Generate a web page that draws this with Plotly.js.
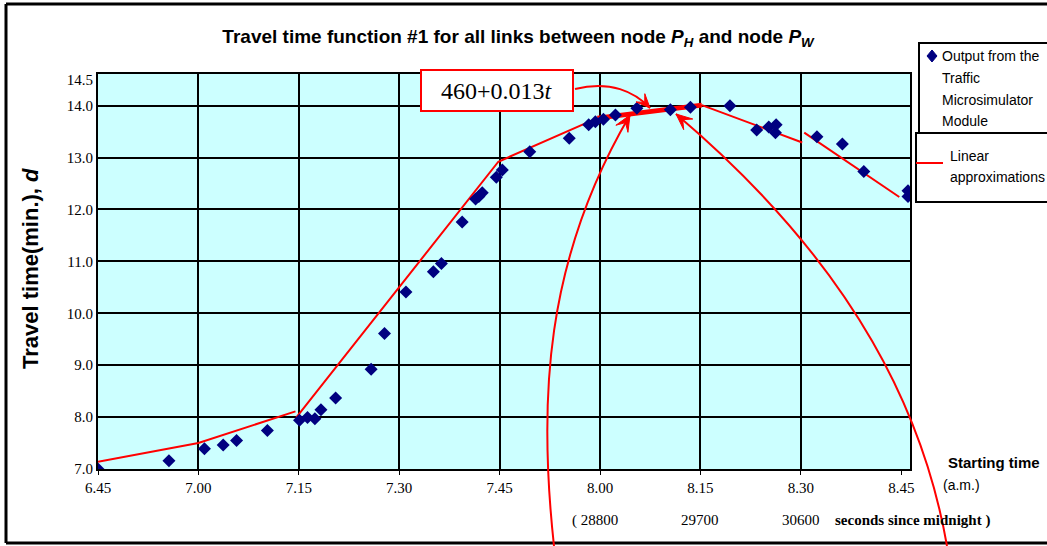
<!DOCTYPE html>
<html>
<head>
<meta charset="utf-8">
<script src="https://cdn.plot.ly/plotly-3.0.1.min.js"></script>
<style>html,body{margin:0;padding:0;background:#fff;}#chart{width:1047px;height:546px;}</style>
</head>
<body>
<div id="chart"></div>
<script>
// ---- data (x = minutes after 6:45 a.m., y = travel time in minutes) ----
const simTime = [0, 10.6, 15.9, 18.7, 20.7, 25.3, 30.1, 31.3, 32.4, 33.3, 35.5, 40.8, 42.8,
  46.0, 50.1, 51.3, 54.4, 56.4, 56.9, 57.4, 59.5, 60.4, 64.5, 70.4, 73.3, 74.3, 75.5, 77.3,
  80.5, 85.5, 88.5, 94.4, 98.4, 100.2, 101.3, 101.2, 107.4, 111.2, 114.4, 121.0, 121.0];
const simTravel = [7.00, 7.16, 7.39, 7.46, 7.55, 7.74, 7.94, 7.99, 7.97, 8.14, 8.37, 8.92, 9.61,
  10.41, 10.80, 10.96, 11.76, 12.20, 12.25, 12.32, 12.62, 12.76, 13.11, 13.37, 13.63, 13.69, 13.74, 13.82,
  13.95, 13.92, 13.97, 14.00, 13.53, 13.59, 13.63, 13.48, 13.40, 13.26, 12.73, 12.36, 12.25];

// linear approximations (null = break between pieces)
const approxTime   = [0, 15, 29.5, null, 29.6, 59.8, 74.6, null, 90.2, 105.2, null, 105.5, 119.7];
const approxTravel = [7.14, 7.50, 8.11, null, 7.99, 12.92, 13.76, null, 14.01, 13.29, null, 13.48, 12.24];
// highlighted piece 460 + 0.013 t
const highlightTime   = [74.6, 90.2];
const highlightTravel = [13.76, 14.01];

const xTickVals = [0, 15, 30, 45, 60, 75, 90, 105, 120];
const xTickText = ['6.45', '7.00', '7.15', '7.30', '7.45', '8.00', '8.15', '8.30', '8.45'];
const xGridVals = [15, 30, 45, 60, 75, 90, 105];
const yTickVals = [7, 8, 9, 10, 11, 12, 13, 14, 14.5];
const yTickText = ['7.0', '8.0', '9.0', '10.0', '11.0', '12.0', '13.0', '14.0', '14.5'];
const yGridVals = [7, 8, 9, 10, 11, 12, 13, 14];
const secondsTime = [75, 90, 105];
const secondsText = ['( 28800', '29700', '30600'];

// ---- layout helpers (pixel -> paper) ----
const PL = 98, PR = 910, PT = 74, PB = 469;
function P(x, y) { return ((x - PL) / (PR - PL)).toFixed(5) + ',' + ((PB - y) / (PB - PT)).toFixed(5); }
function px(x) { return (x - PL) / (PR - PL); }
function py(y) { return (PB - y) / (PB - PT); }
const RED = '#FF0000';
const SERIF = 'Liberation Serif, Times New Roman, serif';
const SANS = 'Liberation Sans, Arial, sans-serif';

function curve(p0, p1, p2, p3) {
  return 'M' + P(p0[0], p0[1]) + ' C' + P(p1[0], p1[1]) + ' ' + P(p2[0], p2[1]) + ' ' + P(p3[0], p3[1]);
}
function head(tip, from, L, W) {
  const dx = tip[0] - from[0], dy = tip[1] - from[1];
  const n = Math.hypot(dx, dy), ux = dx / n, uy = dy / n, nx = -uy, ny = ux;
  const a = [tip[0] - L * ux + W * nx, tip[1] - L * uy + W * ny];
  const b = [tip[0] - 0.55 * L * ux, tip[1] - 0.55 * L * uy];
  const c = [tip[0] - L * ux - W * nx, tip[1] - L * uy - W * ny];
  return 'M' + P(tip[0], tip[1]) + ' L' + P(a[0], a[1]) + ' L' + P(b[0], b[1]) + ' L' + P(c[0], c[1]) + ' Z';
}

const c1 = [[575, 89], [610, 80], [635, 92], [650, 108]];
const c2 = [[554, 546], [538, 400], [545, 260], [630, 115]];
const c3 = [[947, 546], [925, 420], [860, 270], [676, 114]];

const shapes = [
  // outer frame
  {type: 'line', xref: 'paper', yref: 'paper', x0: px(6), x1: px(6), y0: py(4), y1: py(543), line: {color: '#000', width: 3}},
  {type: 'line', xref: 'paper', yref: 'paper', x0: px(6), x1: px(1050), y0: py(4), y1: py(4), line: {color: '#000', width: 3}},
  {type: 'line', xref: 'paper', yref: 'paper', x0: px(6), x1: px(1050), y0: py(543), y1: py(543), line: {color: '#000', width: 3}},
  // curved pointers
  {type: 'path', xref: 'paper', yref: 'paper', layer: 'above', path: curve(...c1), line: {color: RED, width: 2}},
  {type: 'path', xref: 'paper', yref: 'paper', layer: 'above', path: curve(...c2), line: {color: RED, width: 2}},
  {type: 'path', xref: 'paper', yref: 'paper', layer: 'above', path: curve(...c3), line: {color: RED, width: 2}},
  {type: 'path', xref: 'paper', yref: 'paper', layer: 'above', path: head(c1[3], c1[2], 14, 6), fillcolor: RED, line: {color: RED, width: 1}},
  {type: 'path', xref: 'paper', yref: 'paper', layer: 'above', path: head(c2[3], c2[2], 16, 7), fillcolor: RED, line: {color: RED, width: 1}},
  {type: 'path', xref: 'paper', yref: 'paper', layer: 'above', path: head(c3[3], c3[2], 16, 7), fillcolor: RED, line: {color: RED, width: 1}},
  // formula box
  {type: 'rect', xref: 'paper', yref: 'paper', layer: 'above', x0: px(421), x1: px(573), y0: py(70), y1: py(111), fillcolor: '#fff', line: {color: RED, width: 2}},
  // legend boxes
  {type: 'rect', xref: 'paper', yref: 'paper', x0: px(919), x1: px(1052), y0: py(43), y1: py(133), fillcolor: '#fff', line: {color: '#000', width: 2}},
  {type: 'rect', xref: 'paper', yref: 'paper', x0: px(916), x1: px(1052), y0: py(133), y1: py(202), fillcolor: '#fff', line: {color: '#000', width: 2}},
  {type: 'path', xref: 'paper', yref: 'paper', path: 'M' + P(932, 50) + ' L' + P(937, 56) + ' L' + P(932, 62) + ' L' + P(927, 56) + ' Z', fillcolor: '#000080', line: {color: '#000080', width: 1}},
  {type: 'line', xref: 'paper', yref: 'paper', x0: px(916), x1: px(943), y0: py(163), y1: py(163), line: {color: RED, width: 2}}
];

const annotations = [
  {xref: 'paper', yref: 'paper', x: px(497), y: py(91), text: '460+0.013<i>t</i>', showarrow: false, font: {family: SERIF, size: 24, color: '#000'}, xanchor: 'center', yanchor: 'middle'},
  {xref: 'paper', yref: 'paper', x: px(30), y: py(269), text: '<b>Travel time(min.), <i>d</i></b>', textangle: -90, showarrow: false, font: {family: SANS, size: 22, color: '#000'}, xanchor: 'center', yanchor: 'middle'},
  {xref: 'paper', yref: 'paper', x: px(946), y: py(462), text: '<b>Starting time</b>', showarrow: false, font: {family: SANS, size: 15, color: '#000'}, xanchor: 'left', yanchor: 'middle'},
  {xref: 'paper', yref: 'paper', x: px(941), y: py(485), text: '(a.m.)', showarrow: false, font: {family: SANS, size: 14, color: '#000'}, xanchor: 'left', yanchor: 'middle'},
  {xref: 'paper', yref: 'paper', x: px(833), y: py(520), text: '<b>seconds since midnight )</b>', showarrow: false, font: {family: SERIF, size: 15, color: '#000'}, xanchor: 'left', yanchor: 'middle'},
  // legend text
  {xref: 'paper', yref: 'paper', x: px(940), y: py(56), text: 'Output from the', showarrow: false, font: {family: SANS, size: 14, color: '#000'}, xanchor: 'left', yanchor: 'middle'},
  {xref: 'paper', yref: 'paper', x: px(940), y: py(78), text: 'Traffic', showarrow: false, font: {family: SANS, size: 14, color: '#000'}, xanchor: 'left', yanchor: 'middle'},
  {xref: 'paper', yref: 'paper', x: px(940), y: py(100), text: 'Microsimulator', showarrow: false, font: {family: SANS, size: 14, color: '#000'}, xanchor: 'left', yanchor: 'middle'},
  {xref: 'paper', yref: 'paper', x: px(940), y: py(121), text: 'Module', showarrow: false, font: {family: SANS, size: 14, color: '#000'}, xanchor: 'left', yanchor: 'middle'},
  {xref: 'paper', yref: 'paper', x: px(948), y: py(156), text: 'Linear', showarrow: false, font: {family: SANS, size: 14, color: '#000'}, xanchor: 'left', yanchor: 'middle'},
  {xref: 'paper', yref: 'paper', x: px(948), y: py(177), text: 'approximations', showarrow: false, font: {family: SANS, size: 14, color: '#000'}, xanchor: 'left', yanchor: 'middle'}
];
secondsTime.forEach(function (t, i) {
  annotations.push({xref: 'x', yref: 'paper', x: t, y: py(520), text: secondsText[i], showarrow: false,
    font: {family: SERIF, size: 15, color: '#000'}, xanchor: i === 0 ? 'right' : 'center', xshift: i === 0 ? 20 : 0, yanchor: 'middle'});
});

const traces = [
  {x: approxTime, y: approxTravel, type: 'scatter', mode: 'lines', name: 'Linear approximations',
   line: {color: RED, width: 2}, connectgaps: false, hoverinfo: 'skip'},
  {x: highlightTime, y: highlightTravel, type: 'scatter', mode: 'lines', name: '460+0.013t',
   line: {color: RED, width: 5}, hoverinfo: 'skip'},
  {x: simTime, y: simTravel, type: 'scatter', mode: 'markers', name: 'Output from the Traffic Microsimulator Module',
   marker: {symbol: 'diamond', size: 10, color: '#000080', line: {width: 0}}}
];

const layout = {
  width: 1047, height: 546,
  margin: {l: PL, r: 1047 - PR, t: PT, b: 546 - PB, pad: 0},
  paper_bgcolor: '#fff', plot_bgcolor: '#CCFFFF',
  showlegend: false,
  title: {text: '<b>Travel time function #1 for all links between node <i>P<sub>H</sub></i> and node <i>P<sub>W</sub></i></b>',
          x: 518 / 1047, xref: 'container', xanchor: 'center', y: 1 - 36 / 546, yanchor: 'middle', yref: 'container',
          font: {family: SANS, size: 19, color: '#000'}},
  xaxis: {range: [0, 121.3], tickmode: 'array', tickvals: xTickVals, ticktext: xTickText, showgrid: false, zeroline: false,
          ticks: 'outside', ticklen: 4, tickwidth: 1, tickcolor: '#000',
          tickfont: {family: SERIF, size: 15, color: '#000'},
          showline: true, linecolor: '#000', linewidth: 2, mirror: true,
          minor: {tickmode: 'array', tickvals: xGridVals, showgrid: true, gridcolor: '#000', gridwidth: 2, ticks: ''}},
  yaxis: {range: [7, 14.61], tickmode: 'array', tickvals: yTickVals, ticktext: yTickText, showgrid: false, zeroline: false,
          ticks: '', tickfont: {family: SERIF, size: 15, color: '#000'},
          showline: true, linecolor: '#000', linewidth: 2, mirror: true,
          minor: {tickmode: 'array', tickvals: yGridVals, showgrid: true, gridcolor: '#000', gridwidth: 2, ticks: ''}},
  shapes: shapes,
  annotations: annotations
};

Plotly.newPlot('chart', traces, layout, {staticPlot: true, displayModeBar: false});
</script>
</body>
</html>
